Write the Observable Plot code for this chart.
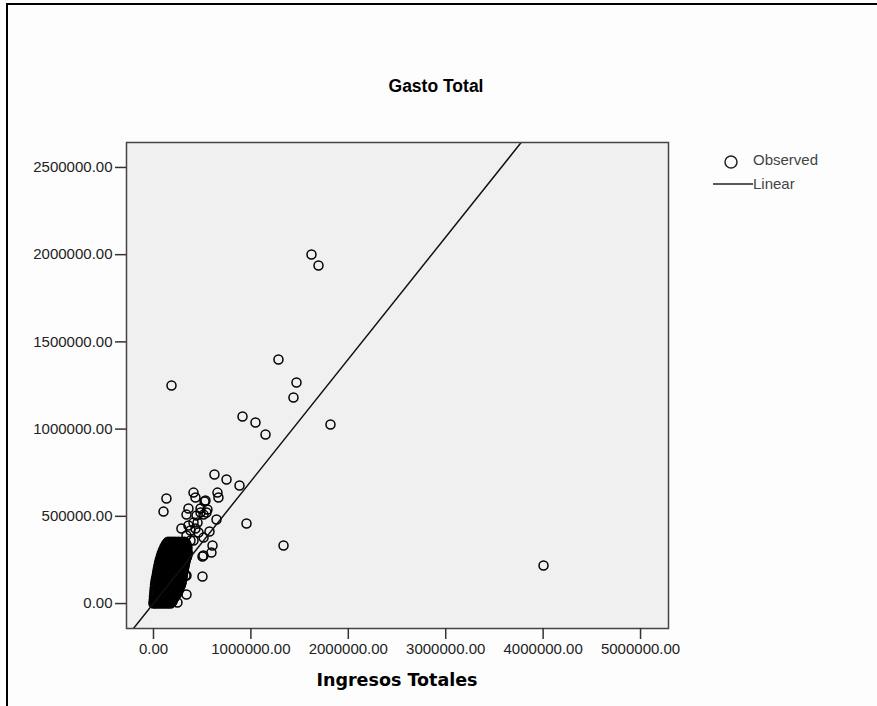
<!DOCTYPE html>
<html><head><meta charset="utf-8">
<script src="https://cdn.jsdelivr.net/npm/d3@7"></script>
<script src="https://cdn.jsdelivr.net/npm/@observablehq/plot@0.6"></script>
<style>
html,body{margin:0;padding:0;background:#fdfdfd;}
#wrap{position:relative;width:877px;height:706px;overflow:hidden;font-family:"Liberation Sans",Arial,sans-serif;}
#wrap svg.plot{position:absolute;left:0;top:0;}
#border{position:absolute;left:6px;top:3px;width:900px;height:800px;border-top:2px solid #000;border-left:2px solid #000;}
#title{position:absolute;left:0;width:872px;top:76px;text-align:center;font-weight:bold;font-size:17.5px;color:#000;}
#xlabel{position:absolute;left:126px;width:542px;top:670px;text-align:center;font-weight:bold;font-size:17.5px;font-family:"DejaVu Sans",sans-serif;color:#000;}
#legend{position:absolute;left:0;top:0;}
</style></head><body>
<div id="wrap"><div id="border"></div></div>
<script>
// Tick values
const xTicks = [0, 1000000, 2000000, 3000000, 4000000, 5000000];
const yTicks = [0, 500000, 1000000, 1500000, 2000000, 2500000];
const xDomain = [-277000, 5287000];
const yDomain = [-143000, 2643000];

// Fitted linear model
const fitIntercept = 1000;
const fitSlope = 0.70;

// Scattered observations
const outlierIngresos = [1622000,1694000,185000,1283000,1468000,1437000,914000,1047000,1150000,1817000,4004000,955000,1335000,
  626000,750000,883000,133000,103000,411000,431000,657000,667000,524000,359000,339000,554000,544000,483000,647000,287000,431000,452000,575000,606000,595000,503000,503000,339000,339000,462000,329000,246000,513000,
  380000,411000,442000,483000,534000,514000,380000,349000,411000,514000,339000,359000];
const outlierGasto = [2001000,1938000,1250000,1399000,1267000,1181000,1072000,1038000,969000,1026000,218000,459000,333000,
  740000,711000,677000,602000,527000,636000,608000,636000,608000,585000,545000,510000,539000,522000,522000,482000,430000,430000,464000,413000,333000,292000,270000,155000,161000,52000,407000,161000,6000,275000,
  419000,464000,505000,545000,591000,510000,361000,321000,361000,378000,390000,447000];

// Dense cluster near the origin: gasto per row, ingresos of the points in that row
const clusterGasto = [0,12000,25000,40000,55000,72000,90000,108000,126000,144000,162000,180000,198000,216000,234000,252000,270000,288000,306000,324000,340000,355000];
const clusterIngresos = [
  [0,25000,55000,85000,115000,145000,175000],
  [2000,30000,60000,90000,120000,150000,180000,195000],
  [4000,35000,65000,98000,130000,160000,190000,205000],
  [5000,38000,70000,105000,138000,170000,200000,222000],
  [8000,40000,75000,110000,145000,178000,210000,240000],
  [10000,45000,80000,115000,150000,185000,220000,255000],
  [13000,48000,83000,118000,153000,190000,228000,268000],
  [16000,50000,86000,122000,158000,195000,232000,282000],
  [20000,55000,90000,126000,162000,200000,240000,290000],
  [26000,60000,95000,130000,166000,204000,245000,296000],
  [33000,66000,100000,135000,172000,210000,250000,300000],
  [38000,72000,106000,140000,178000,216000,255000,305000],
  [44000,78000,112000,146000,184000,222000,262000,312000],
  [50000,84000,118000,152000,190000,228000,268000,318000],
  [57000,90000,124000,158000,196000,234000,274000,325000],
  [65000,98000,130000,165000,202000,240000,280000,332000],
  [75000,106000,138000,172000,208000,246000,288000,345000],
  [85000,115000,146000,180000,215000,252000,295000,352000],
  [97000,126000,155000,188000,222000,258000,300000,345000],
  [112000,138000,166000,196000,230000,266000,305000,342000],
  [128000,152000,178000,206000,238000,272000,310000,338000],
  [150000,175000,200000,228000,258000,290000,318000]
];
const clusterGasto2 = [6000,18000,32000,47000,63000,81000,99000,117000,135000,153000,171000,189000,207000,225000,243000,261000,279000,297000,315000,332000,348000];
const clusterIngresos2 = [
  [12000,40000,70000,100000,130000,160000,185000],
  [16000,45000,75000,105000,135000,165000,188000],
  [20000,50000,82000,114000,145000,175000,198000,212000],
  [22000,54000,88000,122000,155000,186000,215000,230000],
  [24000,58000,92000,128000,162000,196000,228000,248000],
  [28000,62000,98000,132000,168000,202000,238000,262000],
  [30000,66000,100000,136000,172000,210000,250000,275000],
  [34000,68000,104000,140000,176000,215000,260000,286000],
  [38000,72000,108000,145000,182000,220000,265000,293000],
  [44000,78000,116000,150000,188000,226000,270000,298000],
  [50000,84000,120000,156000,195000,232000,276000,303000],
  [56000,90000,126000,164000,200000,240000,282000,308000],
  [62000,96000,132000,170000,208000,246000,290000,315000],
  [68000,102000,140000,176000,214000,252000,296000,322000],
  [76000,110000,146000,182000,220000,258000,302000,328000],
  [84000,118000,152000,188000,226000,266000,310000,338000],
  [95000,128000,160000,196000,232000,270000,318000,348000],
  [105000,136000,168000,204000,238000,276000,322000,348000],
  [118000,148000,176000,210000,246000,282000,322000,344000],
  [130000,160000,188000,220000,252000,290000,325000,340000],
  [140000,165000,190000,218000,248000,280000,312000,330000]
];

const observed = [];
clusterGasto.forEach((g, i) => clusterIngresos[i].forEach(x => observed.push({x, y: g})));
clusterGasto2.forEach((g, i) => clusterIngresos2[i].forEach(x => observed.push({x, y: g})));
outlierIngresos.forEach((x, i) => observed.push({x, y: outlierGasto[i]}));
const fitLine = xDomain.map(x => ({x, y: fitIntercept + fitSlope * x}));

const fmt = d => d.toFixed(2);
const chart = Plot.plot({
  width: 877, height: 706,
  marginLeft: 126, marginRight: 209, marginTop: 142, marginBottom: 78,
  style: {fontFamily: '"Liberation Sans", Arial, sans-serif', fontSize: "15px", color: "#222", background: "transparent"},
  x: {domain: xDomain},
  y: {domain: yDomain},
  marks: [
    Plot.frame({fill: "#f0f0f0", stroke: null}),
    Plot.dot(observed, {x: "x", y: "y", r: 4.5, stroke: "#000", strokeWidth: 1.5, fill: "none", clip: true}),
    Plot.line(fitLine, {x: "x", y: "y", stroke: "#111", strokeWidth: 1.5, clip: true}),
    Plot.frame({stroke: "#444", strokeWidth: 1.5}),
    Plot.axisX(xTicks, {tickSize: 11, tickPadding: 4, tickFormat: fmt, label: null, strokeWidth: 1.5, stroke: "#333", fontSize: 15}),
    Plot.axisY(yTicks, {tickSize: 11, tickPadding: 3, tickFormat: fmt, label: null, strokeWidth: 1.5, stroke: "#333", fontSize: 15})
  ]
});
const wrap = document.getElementById("wrap");
wrap.appendChild(chart);

const title = document.createElement("div");
title.id = "title"; title.textContent = "Gasto Total";
wrap.appendChild(title);
const xlabel = document.createElement("div");
xlabel.id = "xlabel"; xlabel.textContent = "Ingresos Totales";
wrap.appendChild(xlabel);

const ns = "http://www.w3.org/2000/svg";
const leg = document.createElementNS(ns, "svg");
leg.setAttribute("id", "legend"); leg.setAttribute("width", 877); leg.setAttribute("height", 706);
leg.innerHTML = `
<circle cx="731" cy="162" r="6" fill="none" stroke="#222" stroke-width="1.5"/>
<text x="753" y="165" font-size="15" fill="#444" font-family="Liberation Sans, Arial, sans-serif">Observed</text>
<line x1="713" x2="753" y1="184" y2="184" stroke="#222" stroke-width="1.5"/>
<text x="753" y="189" font-size="15" fill="#444" font-family="Liberation Sans, Arial, sans-serif">Linear</text>`;
wrap.appendChild(leg);
</script>
</body></html>
